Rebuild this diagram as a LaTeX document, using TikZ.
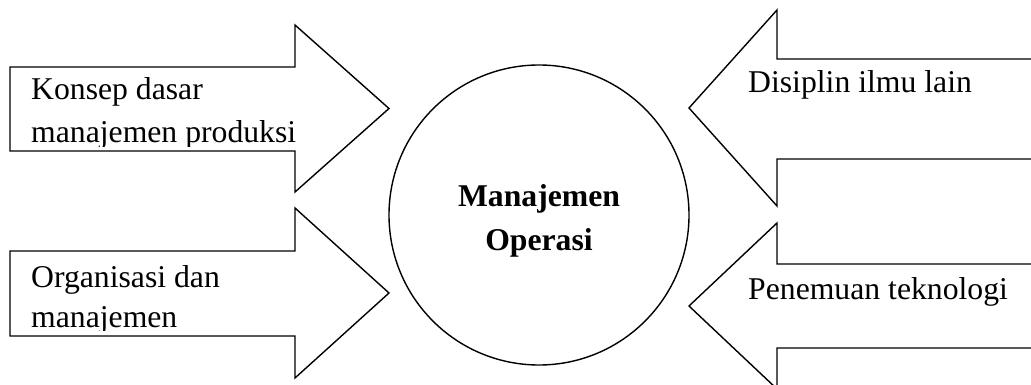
\documentclass[tikz,border=0pt]{standalone}
\usepackage{fontspec}
\setmainfont{Liberation Serif}
\begin{document}
\begin{tikzpicture}[x=1pt,y=-1pt,
  shapeline/.style={draw=black,line width=1.4pt,line join=miter,fill=white},
  lbl/.style={inner sep=0pt,anchor=base west,font=\fontsize{31.7}{43}\selectfont},
  blbl/.style={inner sep=0pt,anchor=base,font=\fontsize{31.7}{44}\selectfont\bfseries}]
\useasboundingbox (0,0) rectangle (1031,385);
\clip (0,0) rectangle (1031,385);
% left arrows
\path[shapeline] (10,67) -- (295,67) -- (295,25) -- (389,108.5) -- (295,192) -- (295,151) -- (10,151) -- cycle;
\path[shapeline] (10,251) -- (295,251) -- (295,208) -- (389,293) -- (295,378) -- (295,336) -- (10,336) -- cycle;
% right arrows
\path[shapeline] (1040,59) -- (777,59) -- (777,10) -- (689,108) -- (777,206) -- (777,159) -- (1040,159) -- cycle;
\path[shapeline] (1040,264) -- (777,264) -- (777,223) -- (689,306) -- (777,389) -- (777,348) -- (1040,348) -- cycle;
% centre circle
\node[circle,draw=black,line width=1.4pt,minimum size=300pt,inner sep=0pt] (mo) at (539,215) {};
\node[blbl] (moa) at (539,206) {Manajemen};
\node[blbl] (mob) at (539,250) {Operasi};
% left texts (clipped at the text box bottom)
\node[lbl] (ka) at (31,100) {Konsep dasar};
\begin{scope}
\clip (20,110) rectangle (300,146.5);
\node[lbl] (kb) at (31,143) {manajemen produksi};
\end{scope}
\node[lbl] (oa) at (31,287) {Organisasi dan};
\begin{scope}
\clip (20,295) rectangle (300,330);
\node[lbl] (ob) at (31,327) {manajemen};
\end{scope}
% right texts
\node[lbl] (da) at (748,93) {Disiplin ilmu lain};
\node[lbl] (pa) at (748,299) {Penemuan teknologi};
\end{tikzpicture}
\end{document}
